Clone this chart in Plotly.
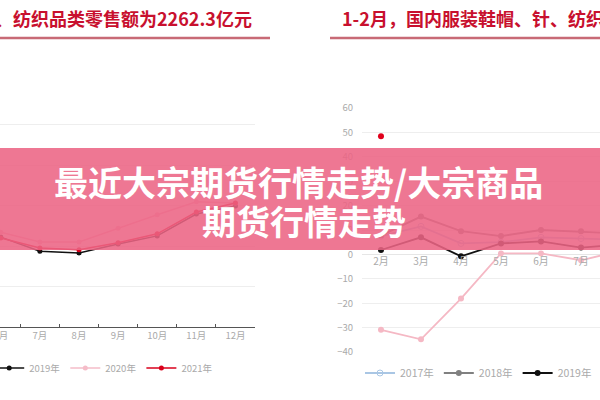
import plotly.graph_objects as go

# left panel: monthly retail sales (亿元)
left_months = ['6月', '7月', '8月', '9月', '10月', '11月', '12月']
left_2019 = [1110, 935, 915, 1025, 1125, 1395, 1495]
left_2020 = [1170, 1050, 1050, 1220, 1385, 1545, 1530]
left_2021 = [1100, 975, 955, 1040, 1150, 1420, 1530]

# right panel: year-on-year growth (%)
right_months = ['2月', '3月', '4月', '5月', '6月', '7月', '8月']
right_2017 = [7.5, 11.5, 4.5, 5.0, 7.0, 6.5, 6.0]
right_2018 = [7.8, 15.5, 9.5, 7.5, 10.0, 9.5, 8.5]
right_2019 = [1.8, 7.0, -0.8, 4.5, 5.3, 2.8, 4.0]
right_2020 = [-30.9, -34.8, -18.1, 0.4, 0.4, -2.4, 1.5]
right_2021 = [48.4]

font = 'Noto Sans CJK SC'
fig = go.Figure()

# left chart traces
for name, vals, col in [('2019年', left_2019, '#111111'),
                        ('2020年', left_2020, '#f5bcc8'),
                        ('2021年', left_2021, '#d9001b')]:
    fig.add_trace(go.Scatter(x=left_months, y=vals, name=name, mode='lines+markers',
                             line=dict(color=col, width=1.5), marker=dict(size=5, color=col),
                             xaxis='x', yaxis='y', legend='legend'))

# right chart traces
for name, vals, col, sym, show in [('2017年', right_2017, '#a9c6e4', 'circle-open', True),
                                   ('2018年', right_2018, '#808080', 'circle', True),
                                   ('2019年', right_2019, '#111111', 'circle', True),
                                   ('2020年', right_2020, '#f5b8c4', 'circle', False),
                                   ('2021年', right_2021, '#e0001b', 'circle', False)]:
    fig.add_trace(go.Scatter(x=right_months[:len(vals)], y=vals, name=name, mode='lines+markers',
                             line=dict(color=col, width=1.8), marker=dict(size=6, color=col, symbol=sym),
                             xaxis='x2', yaxis='y2', legend='legend2', showlegend=show))

fig.update_layout(
    width=600, height=400,
    margin=dict(l=0, r=0, t=0, b=0, autoexpand=False),
    paper_bgcolor='white', plot_bgcolor='white',
    font=dict(family=font, color='#999999'),
    xaxis=dict(domain=[0, 0.425], range=[-0.02, 6.5], anchor='y',
               showline=True, linecolor='#555555', linewidth=1,
               tickson='boundaries', ticks='inside', ticklen=3, tickcolor='#555555',
               tickfont=dict(size=9.5, color='#aaaaaa'), showgrid=False),
    yaxis=dict(domain=[0.1825, 0.79], range=[0, 3000], dtick=500, anchor='x',
               showticklabels=False, gridcolor='#eeeeee', zeroline=False),
    xaxis2=dict(domain=[0.6033, 1], range=[-0.475, 5.475], anchor='free', position=0.364,
                showline=False, ticks='', showgrid=False,
                tickfont=dict(size=10, color='#aaaaaa')),
    yaxis2=dict(domain=[0.12, 0.73], range=[-40, 60], dtick=10, anchor='x2',
                gridcolor='#eeeeee', zeroline=True, zerolinecolor='#e6e6e6', zerolinewidth=1,
                ticks='', ticklabelstandoff=8, tickfont=dict(size=9.5, color='#aaaaaa')),
    legend=dict(orientation='h', x=-0.018, y=0.08, xanchor='left', yanchor='middle',
                font=dict(size=9.5, color='#aaaaaa'), bgcolor='rgba(0,0,0,0)'),
    legend2=dict(orientation='h', x=0.6, y=0.0675, xanchor='left', yanchor='middle',
                 font=dict(size=10.5, color='#aaaaaa'), bgcolor='rgba(0,0,0,0)'),
    showlegend=True,
)

# headings over the two panels
fig.add_annotation(text='服装鞋帽、针、纺织品类零售额为2262.3亿元', xref='paper', yref='paper',
                   x=254 / 600, y=1 - 18 / 400, xanchor='right', yanchor='middle', showarrow=False,
                   font=dict(size=18, color='#c8102e', family=font, weight='bold'))
fig.add_annotation(text='1-2月，国内服装鞋帽、针、纺织品类零售额', xref='paper', yref='paper',
                   x=340 / 600, y=1 - 18 / 400, xanchor='left', yanchor='middle', showarrow=False,
                   font=dict(size=18, color='#c8102e', family=font, weight='bold'))
fig.add_shape(type='line', xref='paper', yref='paper', x0=0, x1=270 / 600,
              y0=1 - 38 / 400, y1=1 - 38 / 400, line=dict(color='#c86a76', width=2.5))
fig.add_shape(type='line', xref='paper', yref='paper', x0=330 / 600, x1=1,
              y0=1 - 38 / 400, y1=1 - 38 / 400, line=dict(color='#c86a76', width=2.5))

# pink banner over everything
fig.add_shape(type='rect', xref='paper', yref='paper', x0=0, x1=1,
              y0=1 - 250 / 400, y1=1 - 148 / 400, layer='above',
              fillcolor='rgba(236,100,132,0.88)', line=dict(width=0))
fig.add_annotation(text='最近大宗期货行情走势/大宗商品', xref='paper', yref='paper',
                   x=298 / 600, y=1 - 181 / 400, xanchor='center', yanchor='middle', showarrow=False,
                   font=dict(size=34, color='white', family=font, weight='bold'))
fig.add_annotation(text='期货行情走势', xref='paper', yref='paper',
                   x=304 / 600, y=1 - 220 / 400, xanchor='center', yanchor='middle', showarrow=False,
                   font=dict(size=34, color='white', family=font, weight='bold'))

# drop the default page margin so the 600x400 figure fills the window
fig.write_html('out.html', config={'displayModeBar': False},
               post_script="document.body.style.margin='0';")
